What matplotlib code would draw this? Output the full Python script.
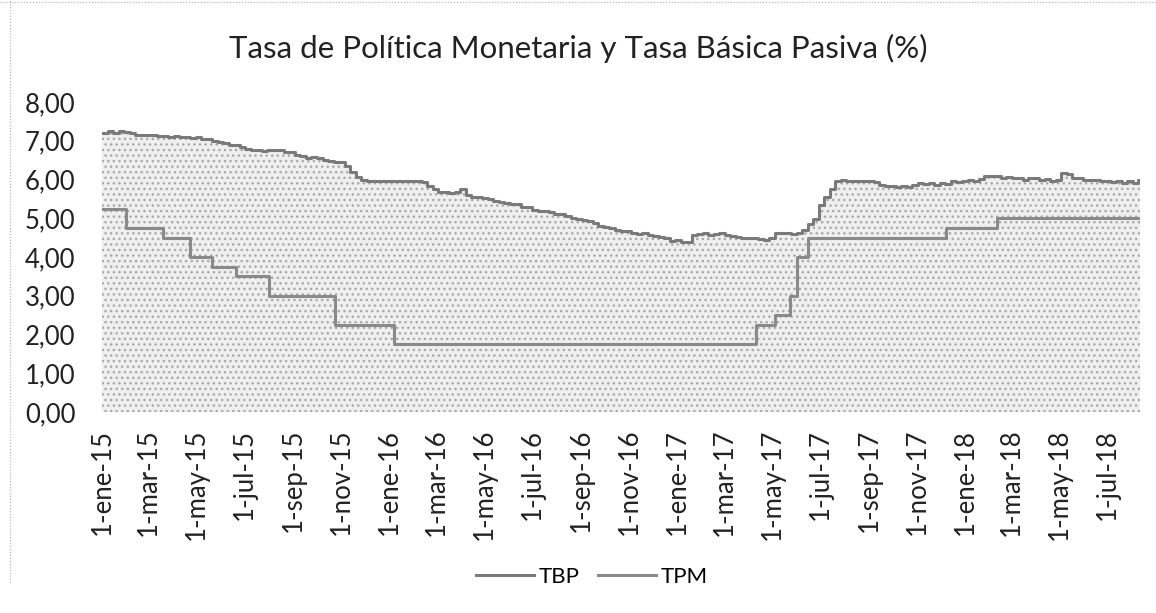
import matplotlib
matplotlib.use("Agg")
import matplotlib.pyplot as plt
import matplotlib.dates as mdates
from matplotlib.ticker import FuncFormatter, MultipleLocator
from matplotlib.lines import Line2D
import pandas as pd
import numpy as np

plt.rcParams['font.family'] = ['Lato', 'DejaVu Sans']
plt.rcParams['hatch.linewidth'] = 1.0

title = "Tasa de Política Monetaria y Tasa Básica Pasiva (%)"

# TBP weekly values starting 1-ene-15
tbp_start = "2015-01-01"
tbp_values = [
    7.20, 7.25, 7.20, 7.25, 7.22, 7.20, 7.15, 7.15, 7.15, 7.15,
    7.12, 7.12, 7.10, 7.12, 7.10, 7.10, 7.08, 7.10, 7.05, 7.05,
    7.00, 6.98, 6.95, 6.90, 6.88, 6.85, 6.80, 6.75, 6.75, 6.73,
    6.77, 6.77, 6.75, 6.70, 6.70, 6.62, 6.60, 6.55, 6.57, 6.55,
    6.50, 6.48, 6.45, 6.45, 6.35, 6.20, 6.07, 6.00, 5.97, 5.97,
    5.97, 5.97, 5.97, 5.97, 5.97, 5.97, 5.97, 5.95, 5.93, 5.82,
    5.75, 5.68, 5.67, 5.65, 5.68, 5.75, 5.60, 5.55, 5.55, 5.52,
    5.50, 5.45, 5.42, 5.40, 5.38, 5.38, 5.30, 5.28, 5.22, 5.20,
    5.18, 5.15, 5.12, 5.10, 5.05, 5.00, 4.97, 4.95, 4.93, 4.88,
    4.80, 4.77, 4.75, 4.70, 4.68, 4.66, 4.62, 4.60, 4.63, 4.57,
    4.55, 4.52, 4.48, 4.42, 4.45, 4.40, 4.38, 4.58, 4.60, 4.62,
    4.58, 4.60, 4.62, 4.58, 4.55, 4.52, 4.50, 4.48, 4.50, 4.47,
    4.45, 4.50, 4.62, 4.62, 4.62, 4.60, 4.62, 4.70, 4.85, 4.97,
    5.35, 5.55, 5.75, 5.97, 6.00, 5.97, 5.95, 5.97, 5.95, 5.97,
    5.93, 5.85, 5.82, 5.83, 5.80, 5.82, 5.80, 5.85, 5.90, 5.88,
    5.90, 5.87, 5.90, 5.88, 5.95, 5.93, 5.97, 6.00, 5.97, 6.02,
    6.08, 6.10, 6.08, 6.05, 6.07, 6.03, 6.05, 6.00, 6.03, 6.05,
    5.98, 6.02, 5.97, 6.00, 6.18, 6.15, 6.05, 6.03, 6.00, 5.98,
    6.00, 5.95, 5.97, 5.93, 5.95, 5.92, 5.95, 5.90, 6.00,
]

# TPM change dates and values
tpm_dates = ["2015-01-01", "2015-02-01", "2015-03-19", "2015-04-23", "2015-05-21",
             "2015-06-20", "2015-08-01", "2015-10-24", "2016-01-07", "2017-04-11",
             "2017-05-04", "2017-05-23", "2017-06-01", "2017-06-15", "2017-12-08",
             "2018-02-11"]
tpm_values = [5.25, 4.75, 4.50, 4.00, 3.75, 3.50, 3.00, 2.25, 1.75, 2.25,
              2.50, 3.00, 4.00, 4.50, 4.75, 5.00]

end_date = "2018-08-11"

meses = ["ene", "feb", "mar", "abr", "may", "jun", "jul", "ago", "sep", "oct", "nov", "dic"]
series_names = ["TBP", "TPM"]

tbp_dates = pd.date_range(tbp_start, periods=len(tbp_values), freq="7D")
tbp_x = list(tbp_dates) + [pd.Timestamp(end_date)]
tbp_y = tbp_values + [tbp_values[-1]]
tpm_x = [pd.Timestamp(d) for d in tpm_dates] + [pd.Timestamp(end_date)]
tpm_y = tpm_values + [tpm_values[-1]]

fig = plt.figure(figsize=(11.56, 6.13), dpi=100)
ax = fig.add_axes([102/1156, 1 - 412/613, (1140-102)/1156, (412-102)/613])

ax.fill_between(tbp_x, tbp_y, 0, step="post", facecolor="#efefef",
                hatch="...", edgecolor="#a8a8a8", linewidth=0, zorder=1)
l1, = ax.plot(tbp_x, tbp_y, drawstyle="steps-post", color="#7a7a7a", lw=2.2, zorder=3)
l2, = ax.plot(tpm_x, tpm_y, drawstyle="steps-post", color="#8a8a8a", lw=2.2, zorder=3)

ax.set_xlim(pd.Timestamp(tbp_start), pd.Timestamp(end_date))
ax.set_ylim(0, 8)
ax.yaxis.set_major_locator(MultipleLocator(1))
ax.yaxis.set_major_formatter(FuncFormatter(lambda v, p: f"{v:.2f}".replace(".", ",")))
ax.xaxis.set_major_locator(mdates.MonthLocator(bymonth=(1, 3, 5, 7, 9, 11), bymonthday=1))

def fmt_date(v, p):
    d = mdates.num2date(v)
    return f"{d.day}-{meses[d.month-1]}-{d.year % 100:02d}"

ax.xaxis.set_major_formatter(FuncFormatter(fmt_date))
for s in ax.spines.values():
    s.set_visible(False)
ax.tick_params(axis="both", length=0, labelsize=18.5, colors="#222222")
ax.tick_params(axis="y", pad=19)
ax.tick_params(axis="x", pad=12)
for lab in ax.get_xticklabels():
    lab.set_rotation(90)

fig.text(0.5, 1 - 48/613, title, ha="center", va="center", fontsize=22.5, color="#222222")

fig.legend([l1, l2], series_names, loc="center", bbox_to_anchor=(592/1156, 1 - 577/613),
           ncol=2, frameon=False, fontsize=16, handlelength=2.6, columnspacing=0.8,
           handletextpad=0.25)

fig.add_artist(Line2D([0, 1], [0.996, 0.996], transform=fig.transFigure,
                      color="#b0b0b0", lw=0.8, ls=":"))
fig.add_artist(Line2D([0.009, 0.009], [0.05, 1], transform=fig.transFigure,
                      color="#b0b0b0", lw=0.8, ls=":"))

fig.savefig("out.png", dpi=100)
